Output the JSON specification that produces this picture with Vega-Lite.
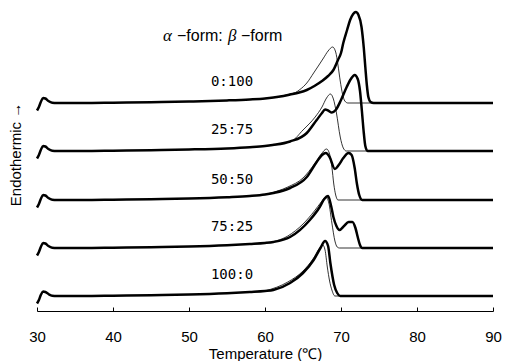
{
  "$schema": "https://vega.github.io/schema/vega-lite/v6.json",
  "width": 456,
  "height": 306,
  "autosize": "none",
  "padding": {"left": 37, "top": 5, "right": 12, "bottom": 50},
  "background": "white",
  "config": {"view": {"stroke": null}, "font": "Liberation Sans"},
  "datasets": {
    "curves": [
      {"sample":"0:100","trace":"thick","temp":30,"signal":200.5},
      {"sample":"0:100","trace":"thick","temp":30.25,"signal":204},
      {"sample":"0:100","trace":"thick","temp":30.5,"signal":209},
      {"sample":"0:100","trace":"thick","temp":30.8,"signal":213},
      {"sample":"0:100","trace":"thick","temp":31.1,"signal":212.5},
      {"sample":"0:100","trace":"thick","temp":31.5,"signal":210},
      {"sample":"0:100","trace":"thick","temp":32,"signal":208.3},
      {"sample":"0:100","trace":"thick","temp":32.6,"signal":208},
      {"sample":"0:100","trace":"thick","temp":36,"signal":208},
      {"sample":"0:100","trace":"thick","temp":40,"signal":208.3},
      {"sample":"0:100","trace":"thick","temp":45,"signal":208.8},
      {"sample":"0:100","trace":"thick","temp":50,"signal":209.5},
      {"sample":"0:100","trace":"thick","temp":55,"signal":210.6},
      {"sample":"0:100","trace":"thick","temp":58,"signal":211.6},
      {"sample":"0:100","trace":"thick","temp":60,"signal":212.6},
      {"sample":"0:100","trace":"thick","temp":62,"signal":214.5},
      {"sample":"0:100","trace":"thick","temp":63.3,"signal":216.5},
      {"sample":"0:100","trace":"thick","temp":64.5,"signal":218.5},
      {"sample":"0:100","trace":"thick","temp":65.5,"signal":221},
      {"sample":"0:100","trace":"thick","temp":66.5,"signal":225},
      {"sample":"0:100","trace":"thick","temp":67.5,"signal":230},
      {"sample":"0:100","trace":"thick","temp":68.3,"signal":235},
      {"sample":"0:100","trace":"thick","temp":69,"signal":241},
      {"sample":"0:100","trace":"thick","temp":69.6,"signal":251},
      {"sample":"0:100","trace":"thick","temp":70,"signal":258},
      {"sample":"0:100","trace":"thick","temp":70.3,"signal":268},
      {"sample":"0:100","trace":"thick","temp":70.8,"signal":281},
      {"sample":"0:100","trace":"thick","temp":71.2,"signal":291},
      {"sample":"0:100","trace":"thick","temp":71.6,"signal":297},
      {"sample":"0:100","trace":"thick","temp":71.95,"signal":299},
      {"sample":"0:100","trace":"thick","temp":72.3,"signal":296},
      {"sample":"0:100","trace":"thick","temp":72.7,"signal":284},
      {"sample":"0:100","trace":"thick","temp":73,"signal":263},
      {"sample":"0:100","trace":"thick","temp":73.2,"signal":244},
      {"sample":"0:100","trace":"thick","temp":73.4,"signal":226},
      {"sample":"0:100","trace":"thick","temp":73.6,"signal":214},
      {"sample":"0:100","trace":"thick","temp":73.9,"signal":209},
      {"sample":"0:100","trace":"thick","temp":74.3,"signal":208},
      {"sample":"0:100","trace":"thick","temp":80,"signal":208},
      {"sample":"0:100","trace":"thick","temp":90,"signal":208},
      {"sample":"0:100","trace":"thin","temp":60,"signal":212.6},
      {"sample":"0:100","trace":"thin","temp":62,"signal":214.6},
      {"sample":"0:100","trace":"thin","temp":63.3,"signal":217},
      {"sample":"0:100","trace":"thin","temp":64,"signal":218.5},
      {"sample":"0:100","trace":"thin","temp":64.6,"signal":221.5},
      {"sample":"0:100","trace":"thin","temp":65.5,"signal":228},
      {"sample":"0:100","trace":"thin","temp":66.4,"signal":238},
      {"sample":"0:100","trace":"thin","temp":67.1,"signal":246},
      {"sample":"0:100","trace":"thin","temp":67.7,"signal":253},
      {"sample":"0:100","trace":"thin","temp":68.3,"signal":260},
      {"sample":"0:100","trace":"thin","temp":68.9,"signal":264},
      {"sample":"0:100","trace":"thin","temp":69.3,"signal":259},
      {"sample":"0:100","trace":"thin","temp":69.6,"signal":246},
      {"sample":"0:100","trace":"thin","temp":69.9,"signal":230},
      {"sample":"0:100","trace":"thin","temp":70.2,"signal":217},
      {"sample":"0:100","trace":"thin","temp":70.5,"signal":210},
      {"sample":"0:100","trace":"thin","temp":70.9,"signal":208},
      {"sample":"0:100","trace":"thin","temp":90,"signal":208},

      {"sample":"25:75","trace":"thick","temp":30,"signal":152.5},
      {"sample":"25:75","trace":"thick","temp":30.25,"signal":156},
      {"sample":"25:75","trace":"thick","temp":30.5,"signal":161},
      {"sample":"25:75","trace":"thick","temp":30.8,"signal":165},
      {"sample":"25:75","trace":"thick","temp":31.1,"signal":164.5},
      {"sample":"25:75","trace":"thick","temp":31.5,"signal":162},
      {"sample":"25:75","trace":"thick","temp":32,"signal":160.3},
      {"sample":"25:75","trace":"thick","temp":32.6,"signal":160},
      {"sample":"25:75","trace":"thick","temp":36,"signal":160},
      {"sample":"25:75","trace":"thick","temp":40,"signal":160.3},
      {"sample":"25:75","trace":"thick","temp":45,"signal":160.8},
      {"sample":"25:75","trace":"thick","temp":50,"signal":161.5},
      {"sample":"25:75","trace":"thick","temp":55,"signal":162.6},
      {"sample":"25:75","trace":"thick","temp":58,"signal":163.8},
      {"sample":"25:75","trace":"thick","temp":60,"signal":165},
      {"sample":"25:75","trace":"thick","temp":61,"signal":166},
      {"sample":"25:75","trace":"thick","temp":63.3,"signal":169.5},
      {"sample":"25:75","trace":"thick","temp":65.5,"signal":178},
      {"sample":"25:75","trace":"thick","temp":66.8,"signal":191},
      {"sample":"25:75","trace":"thick","temp":67.5,"signal":198},
      {"sample":"25:75","trace":"thick","temp":67.9,"signal":201.5},
      {"sample":"25:75","trace":"thick","temp":68.3,"signal":200.5},
      {"sample":"25:75","trace":"thick","temp":68.8,"signal":198.5},
      {"sample":"25:75","trace":"thick","temp":69.3,"signal":201},
      {"sample":"25:75","trace":"thick","temp":70,"signal":211},
      {"sample":"25:75","trace":"thick","temp":70.75,"signal":224},
      {"sample":"25:75","trace":"thick","temp":71.3,"signal":232},
      {"sample":"25:75","trace":"thick","temp":71.8,"signal":236},
      {"sample":"25:75","trace":"thick","temp":72.2,"signal":232},
      {"sample":"25:75","trace":"thick","temp":72.5,"signal":220},
      {"sample":"25:75","trace":"thick","temp":72.75,"signal":200},
      {"sample":"25:75","trace":"thick","temp":73,"signal":178},
      {"sample":"25:75","trace":"thick","temp":73.2,"signal":165},
      {"sample":"25:75","trace":"thick","temp":73.5,"signal":160},
      {"sample":"25:75","trace":"thick","temp":90,"signal":160},
      {"sample":"25:75","trace":"thin","temp":60,"signal":165},
      {"sample":"25:75","trace":"thin","temp":63.5,"signal":170},
      {"sample":"25:75","trace":"thin","temp":65,"signal":181},
      {"sample":"25:75","trace":"thin","temp":66.6,"signal":194},
      {"sample":"25:75","trace":"thin","temp":67.5,"signal":204},
      {"sample":"25:75","trace":"thin","temp":68.1,"signal":213},
      {"sample":"25:75","trace":"thin","temp":68.6,"signal":217},
      {"sample":"25:75","trace":"thin","temp":69,"signal":212},
      {"sample":"25:75","trace":"thin","temp":69.4,"signal":198},
      {"sample":"25:75","trace":"thin","temp":69.9,"signal":174},
      {"sample":"25:75","trace":"thin","temp":70.3,"signal":163},
      {"sample":"25:75","trace":"thin","temp":70.7,"signal":160},
      {"sample":"25:75","trace":"thin","temp":90,"signal":160},

      {"sample":"50:50","trace":"thick","temp":30,"signal":103.5},
      {"sample":"50:50","trace":"thick","temp":30.25,"signal":107},
      {"sample":"50:50","trace":"thick","temp":30.5,"signal":112},
      {"sample":"50:50","trace":"thick","temp":30.8,"signal":116},
      {"sample":"50:50","trace":"thick","temp":31.1,"signal":115.5},
      {"sample":"50:50","trace":"thick","temp":31.5,"signal":113},
      {"sample":"50:50","trace":"thick","temp":32,"signal":111.3},
      {"sample":"50:50","trace":"thick","temp":32.6,"signal":111},
      {"sample":"50:50","trace":"thick","temp":36,"signal":111},
      {"sample":"50:50","trace":"thick","temp":40,"signal":111.3},
      {"sample":"50:50","trace":"thick","temp":45,"signal":111.8},
      {"sample":"50:50","trace":"thick","temp":50,"signal":112.5},
      {"sample":"50:50","trace":"thick","temp":55,"signal":113.8},
      {"sample":"50:50","trace":"thick","temp":58,"signal":115},
      {"sample":"50:50","trace":"thick","temp":60,"signal":116.5},
      {"sample":"50:50","trace":"thick","temp":61.1,"signal":118},
      {"sample":"50:50","trace":"thick","temp":63.3,"signal":123},
      {"sample":"50:50","trace":"thick","temp":65.5,"signal":134},
      {"sample":"50:50","trace":"thick","temp":66.8,"signal":149},
      {"sample":"50:50","trace":"thick","temp":67.5,"signal":156},
      {"sample":"50:50","trace":"thick","temp":68,"signal":158},
      {"sample":"50:50","trace":"thick","temp":68.5,"signal":154},
      {"sample":"50:50","trace":"thick","temp":69.2,"signal":142},
      {"sample":"50:50","trace":"thick","temp":69.7,"signal":146},
      {"sample":"50:50","trace":"thick","temp":70.3,"signal":153},
      {"sample":"50:50","trace":"thick","temp":71,"signal":158},
      {"sample":"50:50","trace":"thick","temp":71.4,"signal":156},
      {"sample":"50:50","trace":"thick","temp":71.8,"signal":143},
      {"sample":"50:50","trace":"thick","temp":72.1,"signal":127},
      {"sample":"50:50","trace":"thick","temp":72.4,"signal":116},
      {"sample":"50:50","trace":"thick","temp":72.8,"signal":111},
      {"sample":"50:50","trace":"thick","temp":90,"signal":111},
      {"sample":"50:50","trace":"thin","temp":60,"signal":116.5},
      {"sample":"50:50","trace":"thin","temp":63,"signal":124},
      {"sample":"50:50","trace":"thin","temp":65,"signal":133},
      {"sample":"50:50","trace":"thin","temp":66.5,"signal":147},
      {"sample":"50:50","trace":"thin","temp":67.4,"signal":157},
      {"sample":"50:50","trace":"thin","temp":68.1,"signal":162},
      {"sample":"50:50","trace":"thin","temp":68.5,"signal":157},
      {"sample":"50:50","trace":"thin","temp":68.8,"signal":144},
      {"sample":"50:50","trace":"thin","temp":69.05,"signal":127},
      {"sample":"50:50","trace":"thin","temp":69.3,"signal":116},
      {"sample":"50:50","trace":"thin","temp":69.6,"signal":111},
      {"sample":"50:50","trace":"thin","temp":90,"signal":111},

      {"sample":"75:25","trace":"thick","temp":30,"signal":55.5},
      {"sample":"75:25","trace":"thick","temp":30.25,"signal":59},
      {"sample":"75:25","trace":"thick","temp":30.5,"signal":64},
      {"sample":"75:25","trace":"thick","temp":30.8,"signal":68},
      {"sample":"75:25","trace":"thick","temp":31.1,"signal":67.5},
      {"sample":"75:25","trace":"thick","temp":31.5,"signal":65},
      {"sample":"75:25","trace":"thick","temp":32,"signal":63.3},
      {"sample":"75:25","trace":"thick","temp":32.6,"signal":63},
      {"sample":"75:25","trace":"thick","temp":36,"signal":63},
      {"sample":"75:25","trace":"thick","temp":40,"signal":63.3},
      {"sample":"75:25","trace":"thick","temp":45,"signal":63.8},
      {"sample":"75:25","trace":"thick","temp":50,"signal":64.5},
      {"sample":"75:25","trace":"thick","temp":55,"signal":65.8},
      {"sample":"75:25","trace":"thick","temp":58,"signal":67},
      {"sample":"75:25","trace":"thick","temp":60,"signal":68},
      {"sample":"75:25","trace":"thick","temp":61.1,"signal":69},
      {"sample":"75:25","trace":"thick","temp":63.3,"signal":74},
      {"sample":"75:25","trace":"thick","temp":65.9,"signal":91},
      {"sample":"75:25","trace":"thick","temp":67.2,"signal":104},
      {"sample":"75:25","trace":"thick","temp":67.8,"signal":112},
      {"sample":"75:25","trace":"thick","temp":68.3,"signal":115},
      {"sample":"75:25","trace":"thick","temp":68.7,"signal":105},
      {"sample":"75:25","trace":"thick","temp":69,"signal":94},
      {"sample":"75:25","trace":"thick","temp":69.4,"signal":85},
      {"sample":"75:25","trace":"thick","temp":69.8,"signal":81},
      {"sample":"75:25","trace":"thick","temp":70.4,"signal":85},
      {"sample":"75:25","trace":"thick","temp":71,"signal":89},
      {"sample":"75:25","trace":"thick","temp":71.5,"signal":89},
      {"sample":"75:25","trace":"thick","temp":71.9,"signal":83},
      {"sample":"75:25","trace":"thick","temp":72.2,"signal":74},
      {"sample":"75:25","trace":"thick","temp":72.5,"signal":66},
      {"sample":"75:25","trace":"thick","temp":72.8,"signal":63},
      {"sample":"75:25","trace":"thick","temp":90,"signal":63},
      {"sample":"75:25","trace":"thin","temp":60,"signal":68},
      {"sample":"75:25","trace":"thin","temp":63,"signal":75},
      {"sample":"75:25","trace":"thin","temp":65,"signal":87},
      {"sample":"75:25","trace":"thin","temp":66.5,"signal":100},
      {"sample":"75:25","trace":"thin","temp":67.4,"signal":109},
      {"sample":"75:25","trace":"thin","temp":68,"signal":114},
      {"sample":"75:25","trace":"thin","temp":68.4,"signal":108},
      {"sample":"75:25","trace":"thin","temp":68.8,"signal":88},
      {"sample":"75:25","trace":"thin","temp":69.2,"signal":70},
      {"sample":"75:25","trace":"thin","temp":69.5,"signal":64},
      {"sample":"75:25","trace":"thin","temp":69.8,"signal":63},
      {"sample":"75:25","trace":"thin","temp":90,"signal":63},

      {"sample":"100:0","trace":"thick","temp":30,"signal":7.5},
      {"sample":"100:0","trace":"thick","temp":30.25,"signal":11},
      {"sample":"100:0","trace":"thick","temp":30.5,"signal":16},
      {"sample":"100:0","trace":"thick","temp":30.8,"signal":19.5},
      {"sample":"100:0","trace":"thick","temp":31.1,"signal":19},
      {"sample":"100:0","trace":"thick","temp":31.5,"signal":17},
      {"sample":"100:0","trace":"thick","temp":32,"signal":15.3},
      {"sample":"100:0","trace":"thick","temp":32.6,"signal":15},
      {"sample":"100:0","trace":"thick","temp":36,"signal":15},
      {"sample":"100:0","trace":"thick","temp":40,"signal":15.3},
      {"sample":"100:0","trace":"thick","temp":45,"signal":15.8},
      {"sample":"100:0","trace":"thick","temp":50,"signal":16.5},
      {"sample":"100:0","trace":"thick","temp":55,"signal":17.8},
      {"sample":"100:0","trace":"thick","temp":58,"signal":19},
      {"sample":"100:0","trace":"thick","temp":60,"signal":20},
      {"sample":"100:0","trace":"thick","temp":61.1,"signal":21},
      {"sample":"100:0","trace":"thick","temp":63.3,"signal":28},
      {"sample":"100:0","trace":"thick","temp":65,"signal":38},
      {"sample":"100:0","trace":"thick","temp":66.4,"signal":51},
      {"sample":"100:0","trace":"thick","temp":67.3,"signal":63},
      {"sample":"100:0","trace":"thick","temp":67.9,"signal":70},
      {"sample":"100:0","trace":"thick","temp":68.3,"signal":65},
      {"sample":"100:0","trace":"thick","temp":68.6,"signal":48},
      {"sample":"100:0","trace":"thick","temp":69.1,"signal":26},
      {"sample":"100:0","trace":"thick","temp":69.5,"signal":18},
      {"sample":"100:0","trace":"thick","temp":69.9,"signal":15},
      {"sample":"100:0","trace":"thick","temp":90,"signal":15},
      {"sample":"100:0","trace":"thin","temp":60,"signal":20},
      {"sample":"100:0","trace":"thin","temp":63,"signal":29},
      {"sample":"100:0","trace":"thin","temp":65,"signal":40},
      {"sample":"100:0","trace":"thin","temp":66.4,"signal":53},
      {"sample":"100:0","trace":"thin","temp":67.1,"signal":62},
      {"sample":"100:0","trace":"thin","temp":67.6,"signal":66},
      {"sample":"100:0","trace":"thin","temp":67.9,"signal":61},
      {"sample":"100:0","trace":"thin","temp":68.2,"signal":44},
      {"sample":"100:0","trace":"thin","temp":68.5,"signal":30},
      {"sample":"100:0","trace":"thin","temp":68.8,"signal":21},
      {"sample":"100:0","trace":"thin","temp":69.2,"signal":15},
      {"sample":"100:0","trace":"thin","temp":90,"signal":15}
    ],
    "labels": [
      {"kind":"ratio","temp":55.66,"signal":229,"text":"0:100"},
      {"kind":"ratio","temp":55.66,"signal":181.5,"text":"25:75"},
      {"kind":"ratio","temp":55.66,"signal":131,"text":"50:50"},
      {"kind":"ratio","temp":55.66,"signal":84,"text":"75:25"},
      {"kind":"ratio","temp":55.66,"signal":36,"text":"100:0"},
      {"kind":"greek","temp":46.58,"signal":275,"text":"α"},
      {"kind":"word","temp":48.42,"signal":275,"text":"−form:"},
      {"kind":"greek","temp":55.13,"signal":275,"text":"β"},
      {"kind":"word","temp":56.84,"signal":275,"text":"−form"}
    ]
  },
  "data": {"name": "curves"},
  "encoding": {
    "x": {
      "field": "temp", "type": "quantitative",
      "scale": {"domain": [30, 90], "nice": false, "zero": false},
      "axis": {
        "values": [30, 40, 50, 60, 70, 80, 90],
        "grid": false, "tickSize": -4, "domainColor": "black", "tickColor": "black",
        "labelFontSize": 15, "labelColor": "black", "labelPadding": 22, "labelFlush": false,
        "title": "Temperature (℃)", "titleFontSize": 15, "titleFontWeight": "normal",
        "titleColor": "black", "titlePadding": 2
      }
    },
    "y": {
      "field": "signal", "type": "quantitative",
      "scale": {"domain": [0, 306], "nice": false, "zero": false},
      "axis": {
        "domain": false, "ticks": false, "labels": false, "grid": false,
        "title": "Endothermic    →", "titleFontSize": 15, "titleFontWeight": "normal",
        "titleColor": "black", "titlePadding": 14, "titleY": 149
      }
    }
  },
  "layer": [
    {
      "transform": [{"filter": "datum.trace == 'thin'"}],
      "mark": {"type": "line", "interpolate": "monotone", "strokeWidth": 0.8, "color": "black"},
      "encoding": {"detail": {"field": "sample"}}
    },
    {
      "transform": [{"filter": "datum.trace == 'thick'"}],
      "mark": {"type": "line", "interpolate": "monotone", "strokeWidth": 2.5, "color": "black"},
      "encoding": {"detail": {"field": "sample"}}
    },
    {
      "data": {"name": "labels"},
      "transform": [{"filter": "datum.kind == 'ratio'"}],
      "mark": {"type": "text", "font": "DejaVu Sans Mono", "fontSize": 14, "align": "center", "baseline": "middle", "color": "black"},
      "encoding": {"text": {"field": "text"}}
    },
    {
      "data": {"name": "labels"},
      "transform": [{"filter": "datum.kind == 'greek'"}],
      "mark": {"type": "text", "font": "Liberation Serif", "fontStyle": "italic", "fontSize": 17, "align": "left", "baseline": "middle", "color": "black"},
      "encoding": {"text": {"field": "text"}}
    },
    {
      "data": {"name": "labels"},
      "transform": [{"filter": "datum.kind == 'word'"}],
      "mark": {"type": "text", "font": "Liberation Sans", "fontSize": 16, "align": "left", "baseline": "middle", "color": "black"},
      "encoding": {"text": {"field": "text"}}
    }
  ]
}
